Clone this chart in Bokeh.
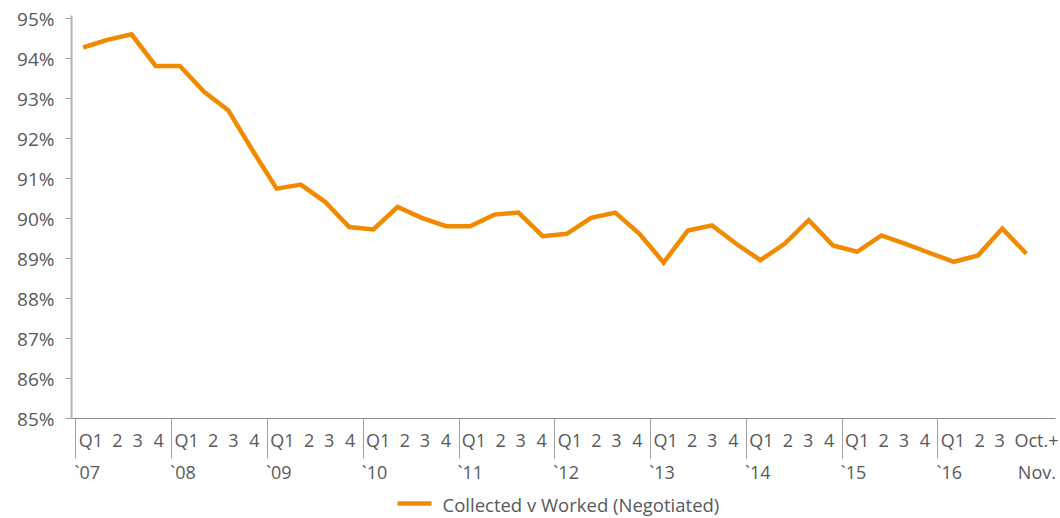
from bokeh.plotting import figure
from bokeh.models import (Range1d, FixedTicker, LinearAxis, PrintfTickFormatter)
from bokeh.embed import file_html
from bokeh.resources import INLINE

# ---------------- data ----------------
years = ["`07", "`08", "`09", "`10", "`11", "`12", "`13", "`14", "`15", "`16"]
quarters = ["Q1", "2", "3", "4"]
last_period = ["Oct.+", "Nov."]
series_name = "Collected v Worked (Negotiated)"
values = [94.28, 94.47, 94.61, 93.82, 93.82, 93.17, 92.71, 91.71, 90.75, 90.85,
          90.42, 89.79, 89.73, 90.29, 90.02, 89.81, 89.81, 90.10, 90.15, 89.56,
          89.62, 90.02, 90.15, 89.62, 88.90, 89.70, 89.83, 89.37, 88.96, 89.37,
          89.96, 89.33, 89.17, 89.58, 89.37, 89.14, 88.92, 89.08, 89.75, 89.12]
y_ticks = list(range(85, 96))

# ---------------- style ----------------
FONT = "Open Sans"
TEXT = "#58595B"
ORANGE = "#F28A00"

x = list(range(len(values)))

p = figure(frame_width=984, frame_height=403,
           x_range=Range1d(-0.48, 40.2), y_range=Range1d(85, 95.08),
           x_axis_location=None, y_axis_location=None,
           output_backend="svg", toolbar_location=None,
           min_border_left=71, min_border_right=3, min_border_top=15,
           min_border_bottom=0)
p.outline_line_color = None
p.xgrid.grid_line_color = None
p.ygrid.grid_line_color = None

# y axis
yaxis = LinearAxis(ticker=FixedTicker(ticks=y_ticks),
                   formatter=PrintfTickFormatter(format="%d%%"))
yaxis.axis_line_color = "#B5B5B5"
yaxis.axis_line_width = 2
yaxis.major_tick_out = 6
yaxis.major_tick_in = 0
yaxis.major_tick_line_color = "#A0A0A0"
yaxis.minor_tick_line_color = None
yaxis.major_label_text_font = FONT
yaxis.major_label_text_font_size = "19px"
yaxis.major_label_text_color = TEXT
yaxis.major_label_standoff = 11
p.add_layout(yaxis, "left")

# x axis: quarter labels + separators (minor ticks)
sep_pos = [round(-0.3 + 3.96 * k, 3) for k in range(len(years))]
q_offsets = [0.62, 1.72, 2.55, 3.42]
last_offsets = [0.62, 1.72, 2.55, 4.09]
q_pos, q_lab = [], {}
for k, s in enumerate(sep_pos):
    if k < len(years) - 1:
        labs, offs = quarters, q_offsets
    else:
        labs, offs = quarters[:3] + [last_period[0]], last_offsets
    for lab, o in zip(labs, offs):
        pos = round(s + o, 3)
        q_pos.append(pos)
        q_lab[pos] = lab

xaxis = LinearAxis(ticker=FixedTicker(ticks=q_pos, minor_ticks=sep_pos),
                   major_label_overrides=q_lab)
xaxis.axis_line_color = "#8C8C8C"
xaxis.axis_line_width = 1
xaxis.major_tick_line_color = None
xaxis.major_tick_out = 0
xaxis.major_tick_in = 0
xaxis.minor_tick_line_color = "#A0A0A0"
xaxis.minor_tick_out = 40
xaxis.minor_tick_in = 0
xaxis.major_label_text_font = FONT
xaxis.major_label_text_font_size = "18px"
xaxis.major_label_text_color = TEXT
xaxis.major_label_standoff = -31
p.add_layout(xaxis, "below")

# x axis: year labels
y_pos, y_lab = [], {}
for k, s in enumerate(sep_pos):
    pos = round(s + 0.47, 3)
    y_pos.append(pos)
    y_lab[pos] = years[k]
nov_pos = round(sep_pos[-1] + last_offsets[-1] + 0.001, 3)
y_pos.append(nov_pos)
y_lab[nov_pos] = last_period[1]

yearaxis = LinearAxis(ticker=FixedTicker(ticks=y_pos), major_label_overrides=y_lab)
yearaxis.axis_line_color = None
yearaxis.major_tick_line_color = None
yearaxis.minor_tick_line_color = None
yearaxis.major_tick_out = 0
yearaxis.major_tick_in = 0
yearaxis.major_label_text_font = FONT
yearaxis.major_label_text_font_size = "18px"
yearaxis.major_label_text_color = TEXT
yearaxis.major_label_standoff = 5
p.add_layout(yearaxis, "below")

# spacer between the year labels and the key (one white, invisible tick)
spacer_tick = 35.0
spacer = LinearAxis(ticker=FixedTicker(ticks=[spacer_tick]),
                    major_label_overrides={spacer_tick: ""})
spacer.axis_line_color = None
spacer.major_tick_line_color = "#FFFFFF"
spacer.minor_tick_line_color = None
spacer.major_tick_out = 17
spacer.major_tick_in = 0
spacer.major_label_standoff = 0
spacer.major_label_text_font_size = "1px"
spacer.major_label_text_alpha = 0
p.add_layout(spacer, "below")

# key swatch: a short orange axis line
swatch = LinearAxis(ticker=FixedTicker(ticks=[]), bounds=(13.0, 14.4))
swatch.axis_line_color = ORANGE
swatch.axis_line_width = 4.5
swatch.major_tick_line_color = None
swatch.minor_tick_line_color = None
swatch.major_tick_out = 0
swatch.major_tick_in = 0
swatch.major_label_standoff = 0
p.add_layout(swatch, "below")

# key text
key_pos = 20.58
keyaxis = LinearAxis(ticker=FixedTicker(ticks=[key_pos]),
                     major_label_overrides={key_pos: series_name})
keyaxis.axis_line_color = None
keyaxis.major_tick_line_color = None
keyaxis.minor_tick_line_color = None
keyaxis.major_tick_out = 0
keyaxis.major_tick_in = 0
keyaxis.major_label_text_font = FONT
keyaxis.major_label_text_font_size = "18.5px"
keyaxis.major_label_text_color = TEXT
keyaxis.major_label_standoff = -12
p.add_layout(keyaxis, "below")

p.line(x, values, line_color=ORANGE, line_width=4.5, line_join="miter")

open("out.html", "w").write(file_html(p, INLINE))
